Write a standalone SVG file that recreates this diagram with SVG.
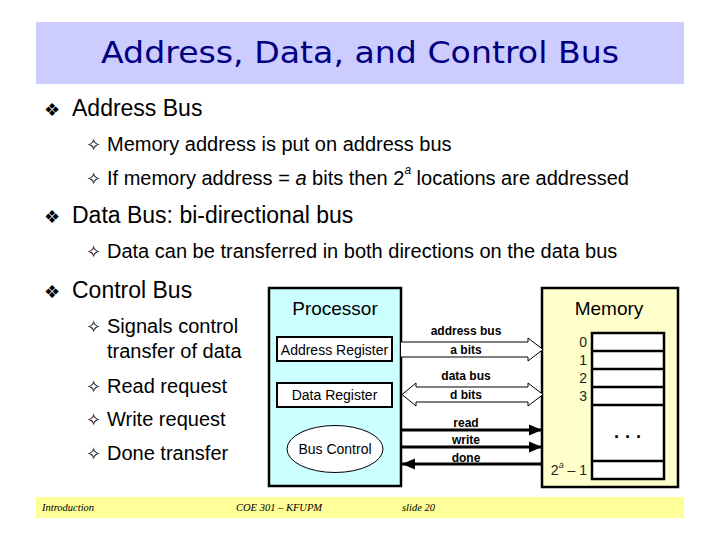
<svg xmlns="http://www.w3.org/2000/svg" width="720" height="540" viewBox="0 0 720 540">
<style>
.t{font-family:"Liberation Sans",Arial,sans-serif;fill:#000}
.b1{font-size:23px}
.b2{font-size:20px}
.sym{font-family:"DejaVu Sans",sans-serif;fill:#000}
.s1{font-size:18px}
.s2{font-size:18px}
.lbl{font-family:"Liberation Sans",Arial,sans-serif;font-size:12px;font-weight:bold;text-anchor:middle}
.reg{font-family:"Liberation Sans",Arial,sans-serif;font-size:14px;text-anchor:middle}
.num{font-family:"Liberation Sans",Arial,sans-serif;font-size:14px;text-anchor:end;fill:#222}
.foot{font-family:"Liberation Serif","Times New Roman",serif;font-style:italic;font-size:10.5px}
.box{stroke:#000;stroke-width:2.5}
.bus{fill:#fff;stroke:#000;stroke-width:1}
.ctl{stroke:#000;stroke-width:3;fill:none}
.cell{fill:#fff;stroke:#000;stroke-width:2.5}
</style>
<defs>
<marker id="ah" markerUnits="userSpaceOnUse" markerWidth="14" markerHeight="12" refX="13" refY="6" orient="auto">
<path d="M0,0.5 L13,6 L0,11.5 Z" fill="#000"/>
</marker>
</defs>
<rect x="0" y="0" width="720" height="540" fill="#fff"/>
<g id="title">
<rect x="36" y="22" width="648" height="62" fill="#ccccff"/>
<text x="360" y="63" text-anchor="middle" font-family="'Comic Sans MS','DejaVu Sans',sans-serif" font-size="30" fill="#000080" textLength="518" lengthAdjust="spacingAndGlyphs">Address, Data, and Control Bus</text>
</g>
<g id="bullets">
<text class="sym s1" x="44" y="116">❖</text>
<text class="t b1" x="72" y="116">Address Bus</text>
<text class="sym s2" x="86" y="151">✧</text>
<text class="t b2" x="107" y="151">Memory address is put on address bus</text>
<text class="sym s2" x="86" y="185">✧</text>
<text class="t b2" x="107" y="185">If memory address = <tspan font-style="italic">a</tspan> bits then 2<tspan font-size="12" dy="-11" font-style="italic">a</tspan><tspan dy="11"> locations are addressed</tspan></text>
<text class="sym s1" x="44" y="223">❖</text>
<text class="t b1" x="72" y="223">Data Bus: bi-directional bus</text>
<text class="sym s2" x="86" y="258">✧</text>
<text class="t b2" x="107" y="258">Data can be transferred in both directions on the data bus</text>
<text class="sym s1" x="44" y="298">❖</text>
<text class="t b1" x="72" y="298">Control Bus</text>
<text class="sym s2" x="86" y="333">✧</text>
<text class="t b2" x="107" y="333">Signals control</text>
<text class="t b2" x="107" y="358">transfer of data</text>
<text class="sym s2" x="86" y="393">✧</text>
<text class="t b2" x="107" y="393">Read request</text>
<text class="sym s2" x="86" y="426">✧</text>
<text class="t b2" x="107" y="426">Write request</text>
<text class="sym s2" x="86" y="460">✧</text>
<text class="t b2" x="107" y="460">Done transfer</text>
</g>
<g id="processor">
<rect class="box" x="269" y="288" width="132" height="198" fill="#ccffff"/>
<text class="t" x="335" y="315" font-size="19" text-anchor="middle">Processor</text>
<g id="address-register">
<rect x="277" y="337" width="115" height="24" fill="#fff" stroke="#000" stroke-width="2"/>
<text class="reg" x="334.5" y="354.5">Address Register</text>
</g>
<g id="data-register">
<rect x="277" y="383" width="115" height="24" fill="#fff" stroke="#000" stroke-width="2"/>
<text class="reg" x="334.5" y="400">Data Register</text>
</g>
<g id="bus-control">
<ellipse cx="335" cy="449" rx="48" ry="23.5" fill="#fff" stroke="#000" stroke-width="1"/>
<text class="reg" x="335" y="454">Bus Control</text>
</g>
</g>
<g id="memory">
<rect class="box" x="542" y="288" width="136" height="199" fill="#ffffcc"/>
<text class="t" x="609" y="315" font-size="19" text-anchor="middle">Memory</text>
<rect class="cell" x="592" y="333" width="72" height="146"/>
<path d="M592,351H664M592,369H664M592,387H664M592,405H664M592,461H664" stroke="#000" stroke-width="2.5"/>
<text class="num" x="587" y="347">0</text>
<text class="num" x="587" y="365">1</text>
<text class="num" x="587" y="383">2</text>
<text class="num" x="587" y="401">3</text>
<text x="628" y="443" text-anchor="middle" font-family="'Liberation Sans',Arial,sans-serif" font-size="18" font-weight="bold">· · ·</text>
<text class="num" x="587" y="475">2<tspan font-size="9" dy="-7" font-style="italic">a</tspan><tspan dy="7"> – 1</tspan></text>
</g>
<g id="connectors">
<path class="bus" d="M401,342H528V338L543,349.5L528,361V357H401"/>
<path class="bus" d="M416,387H528V383L543,394.5L528,406V402H416V406L402,394.5L416,383Z"/>
<line class="ctl" x1="401" y1="430" x2="542" y2="430" marker-end="url(#ah)"/>
<line class="ctl" x1="401" y1="447" x2="542" y2="447" marker-end="url(#ah)"/>
<line class="ctl" x1="542" y1="464" x2="402" y2="464" marker-end="url(#ah)"/>
<text class="lbl" x="466" y="335">address bus</text>
<text class="lbl" x="466" y="354">a bits</text>
<text class="lbl" x="466" y="380">data bus</text>
<text class="lbl" x="466" y="399">d bits</text>
<text class="lbl" x="466" y="427">read</text>
<text class="lbl" x="466" y="444">write</text>
<text class="lbl" x="466" y="462">done</text>
</g>
<g id="footer">
<rect x="36" y="497" width="648" height="21" fill="#ffff99"/>
<text class="foot" x="42" y="511">Introduction</text>
<text class="foot" x="236" y="511">COE 301 – KFUPM</text>
<text class="foot" x="402" y="511">slide 20</text>
</g>
</svg>
